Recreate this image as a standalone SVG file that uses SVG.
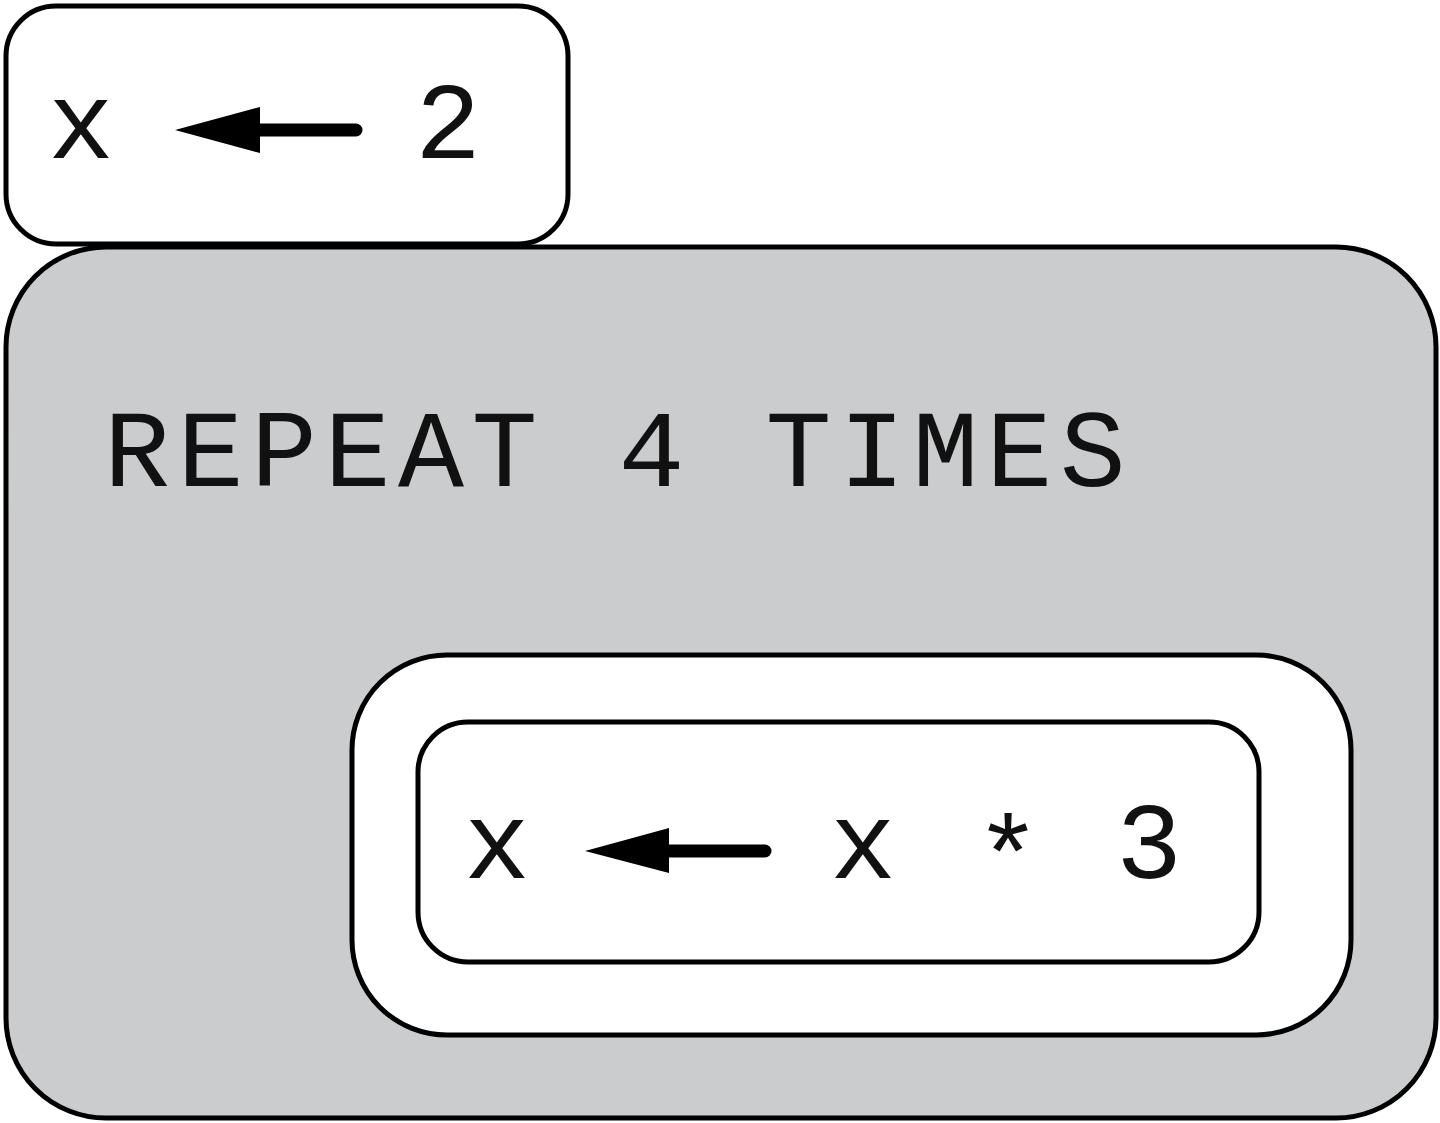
<svg xmlns="http://www.w3.org/2000/svg" width="1440" height="1123" viewBox="0 0 1440 1123">
<style>
.box{stroke:#000;stroke-width:5;}
.t{font-family:"Liberation Mono","Courier New",monospace;font-size:110px;fill:#111;}
.arr{fill:#000;stroke:none;}
.shaft{stroke:#000;stroke-width:13;stroke-linecap:round;fill:none;}
</style>
<rect width="1440" height="1123" fill="#fff"/>
<g id="init">
<rect class="box" x="6" y="6" width="562" height="238" rx="50" fill="#fff"/>
<text class="t" x="81" y="158" text-anchor="middle">x</text>
<text class="t" x="448" y="158" text-anchor="middle">2</text>
</g>
<g id="loop">
<rect class="box" x="6" y="247" width="1430" height="871" rx="100" fill="#cbcccd"/>
<text class="t" x="104" y="486" letter-spacing="7.5">REPEAT 4 TIMES</text>
</g>
<g id="body">
<rect class="box" x="352" y="655" width="999" height="380" rx="95" fill="#fff"/>
</g>
<g id="stmt">
<rect class="box" x="418" y="722" width="841" height="240" rx="50" fill="#fff"/>
<text class="t" x="497" y="878" text-anchor="middle">x</text>
<text class="t" x="863" y="878" text-anchor="middle">x</text>
<text class="t" x="1008" y="892" text-anchor="middle">*</text>
<text class="t" x="1149" y="878" text-anchor="middle">3</text>
</g>
<g id="connectors">
<path class="arr" d="M175 130 L260 107 L260 153 Z"/>
<line class="shaft" x1="255" y1="130" x2="356" y2="130"/>
<path class="arr" d="M585 851 L669 828 L669 873 Z"/>
<line class="shaft" x1="664" y1="851" x2="765" y2="851"/>
</g>
</svg>
